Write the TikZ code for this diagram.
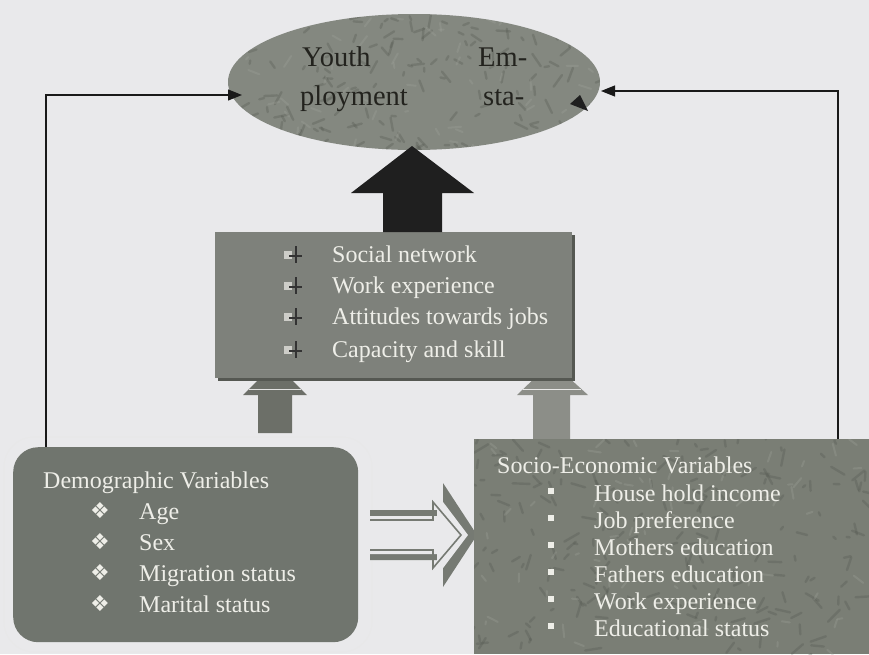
\documentclass[tikz,border=0pt]{standalone}
\usepackage{fontspec}
\setmainfont{Liberation Serif}
\newfontfamily\djv{DejaVu Sans}
\usetikzlibrary{shapes.geometric,arrows.meta}
\definecolor{bg}{RGB}{233,233,235}
\definecolor{ellfill}{RGB}{132,136,128}
\definecolor{boxfill}{RGB}{126,129,123}
\definecolor{boxshadow}{RGB}{85,88,82}
\definecolor{demofill}{RGB}{112,117,110}
\definecolor{sociofill}{RGB}{122,126,117}
\definecolor{lighttext}{RGB}{238,238,232}
\definecolor{darktext}{RGB}{35,35,30}
\definecolor{streak}{RGB}{78,82,74}
\definecolor{streaklight}{RGB}{160,163,155}
\definecolor{hollowgray}{RGB}{118,122,115}
\definecolor{uparrowA}{RGB}{108,111,104}
\definecolor{uparrowB}{RGB}{140,142,136}
\definecolor{bulletlight}{RGB}{205,205,200}
\tikzset{
  conn/.style={draw=black!90, line width=1.1pt, -{Triangle[length=14pt,width=11pt]}},
  ltxt/.style={text=lighttext, font=\fontsize{24}{28}\selectfont, anchor=base west, inner sep=0pt},
  etxt/.style={text=darktext, font=\fontsize{28.5}{32}\selectfont, anchor=base west, inner sep=0pt},
  dbul/.style={text=lighttext, font=\djv\fontsize{22}{24}\selectfont, anchor=base west, inner sep=0pt},
  texstroke/.style={draw=streak, opacity=0.28, line width=2.4pt, line cap=round},
  texlight/.style={draw=streaklight, opacity=0.3, line width=2pt, line cap=round}
}
\begin{document}
\begin{tikzpicture}[x=1pt,y=-1pt]
\useasboundingbox (0,0) rectangle (869,654);
\fill[bg] (0,0) rectangle (869,654);

% faint outline around demographic box
\draw[gray!18, line width=0.6pt, rounded corners=30pt] (4,437) rectangle (372,652);

% small up arrows (partly hidden by boxes)
\fill[uparrowA] (258,433) -- (258,395) -- (243,395) -- (275,363) -- (307,395) -- (292,395) -- (292,433) -- cycle;
\draw[white!80!uparrowA, line width=0.8pt] (249,389) -- (301,389);
\fill[uparrowB] (533,445) -- (533,395) -- (517,395) -- (551.5,362) -- (588,395) -- (570,395) -- (570,445) -- cycle;
\draw[white!80!uparrowB, line width=0.8pt] (523,389) -- (581,389);

% middle box
\fill[boxshadow] (218,235) rectangle (575,381);
\node[rectangle, fill=boxfill, minimum width=357pt, minimum height=146pt, inner sep=0pt, anchor=north west] (mid) at (215,232) {};

% goal ellipse
\node[ellipse, fill=ellfill, minimum width=372pt, minimum height=136pt, inner sep=0pt] (goal) at (414,82) {};
\begin{scope}
\clip (414,82) ellipse [x radius=186, y radius=68];
\pgfmathsetseed{7}
\foreach \i in {1,...,150}{
  \pgfmathsetmacro\px{228+372*rnd}
  \pgfmathsetmacro\py{14+136*rnd}
  \pgfmathsetmacro\an{360*rnd}
  \pgfmathsetmacro\ln{3+12*rnd}
  \draw[texstroke] (\px,\py) -- ++(\an:\ln);
}
\foreach \i in {1,...,60}{
  \pgfmathsetmacro\px{228+372*rnd}
  \pgfmathsetmacro\py{14+136*rnd}
  \pgfmathsetmacro\an{360*rnd}
  \pgfmathsetmacro\ln{3+10*rnd}
  \draw[texlight] (\px,\py) -- ++(\an:\ln);
}
\end{scope}
\node[etxt] (t1) at (302,66) {Youth};
\node[etxt] (t2) at (478,66) {Em-};
\node[etxt] (t3) at (300,105) {ployment};
\node[etxt] (t4) at (483,105) {sta-};
% stray arrowhead inside ellipse
\fill[black!88] (588,111) -- (570,104) -- (580,95) -- cycle;

% big black arrow
\fill[black!88] (383,232) -- (383,193) -- (351,193) -- (412,146) -- (474,193) -- (442,193) -- (442,232) -- cycle;

% middle box text
\foreach \b/\txt [count=\k] in {262/Social network, 293/Work experience, 324/Attitudes towards jobs, 357/Capacity and skill}{
  \fill[bulletlight] (284,\b-11) rectangle (292,\b-3);
  \draw[black!80, line width=1.2pt] (296,\b-16) -- (296,\b+1);
  \draw[black!80, line width=1.2pt] (289,\b-6) -- (302,\b-6);
  \node[ltxt] (m\k) at (332,\b) {\txt};
}

% connectors
\coordinate (lstart) at (46,447);
\coordinate (ltip) at (242,95);
\coordinate (rstart) at (838,439);
\coordinate (rtip) at (601,91);
\draw[conn] (lstart) |- (ltip);
\draw[conn] (rstart) |- (rtip);

% demographic box
\node[rectangle, rounded corners=25pt, fill=demofill, minimum width=345pt, minimum height=195pt, inner sep=0pt, anchor=north west] (demo) at (13,447) {};
\node[ltxt] (dtitle) at (43,488) {Demographic Variables};
\foreach \b/\txt [count=\k] in {519/Age, 550/Sex, 581/Migration status, 612/Marital status}{
  \node[dbul] (db\k) at (90,\b-1) {❖};
  \node[ltxt] (d\k) at (139,\b) {\txt};
}

% hollow arrow
\fill[hollowgray] (370,510) -- (443,510) -- (443,483) -- (477,535) -- (443,587) -- (443,560) -- (370,560) -- cycle;
\fill[bg] (370,516) -- (437,516) -- (437,494) -- (468,535) -- (437,576) -- (437,554) -- (370,554) -- cycle;
\draw[hollowgray, line width=1.6pt] (370,520) -- (433,520) -- (433,502) -- (461,535) -- (433,568) -- (433,550) -- (370,550);

% socio-economic box
\node[rectangle, fill=sociofill, minimum width=395pt, minimum height=215pt, inner sep=0pt, anchor=north west] (socio) at (474,439) {};
\begin{scope}
\clip (474,439) rectangle (869,654);
\pgfmathsetseed{11}
\foreach \i in {1,...,200}{
  \pgfmathsetmacro\px{474+395*rnd}
  \pgfmathsetmacro\py{439+215*rnd}
  \pgfmathsetmacro\an{360*rnd}
  \pgfmathsetmacro\ln{3+14*rnd}
  \draw[texstroke] (\px,\py) -- ++(\an:\ln);
}
\foreach \i in {1,...,70}{
  \pgfmathsetmacro\px{474+395*rnd}
  \pgfmathsetmacro\py{439+215*rnd}
  \pgfmathsetmacro\an{360*rnd}
  \pgfmathsetmacro\ln{3+10*rnd}
  \draw[texlight] (\px,\py) -- ++(\an:\ln);
}
\end{scope}
\node[ltxt] (stitle) at (497,473) {Socio-Economic Variables};
\foreach \b/\txt [count=\k] in {501/House hold income, 528/Job preference, 555/Mothers education, 582/Fathers education, 609/Work experience, 636/Educational status}{
  \fill[lighttext] (548,\b-13) rectangle (554,\b-7);
  \node[ltxt] (s\k) at (594,\b) {\txt};
}
\end{tikzpicture}
\end{document}
